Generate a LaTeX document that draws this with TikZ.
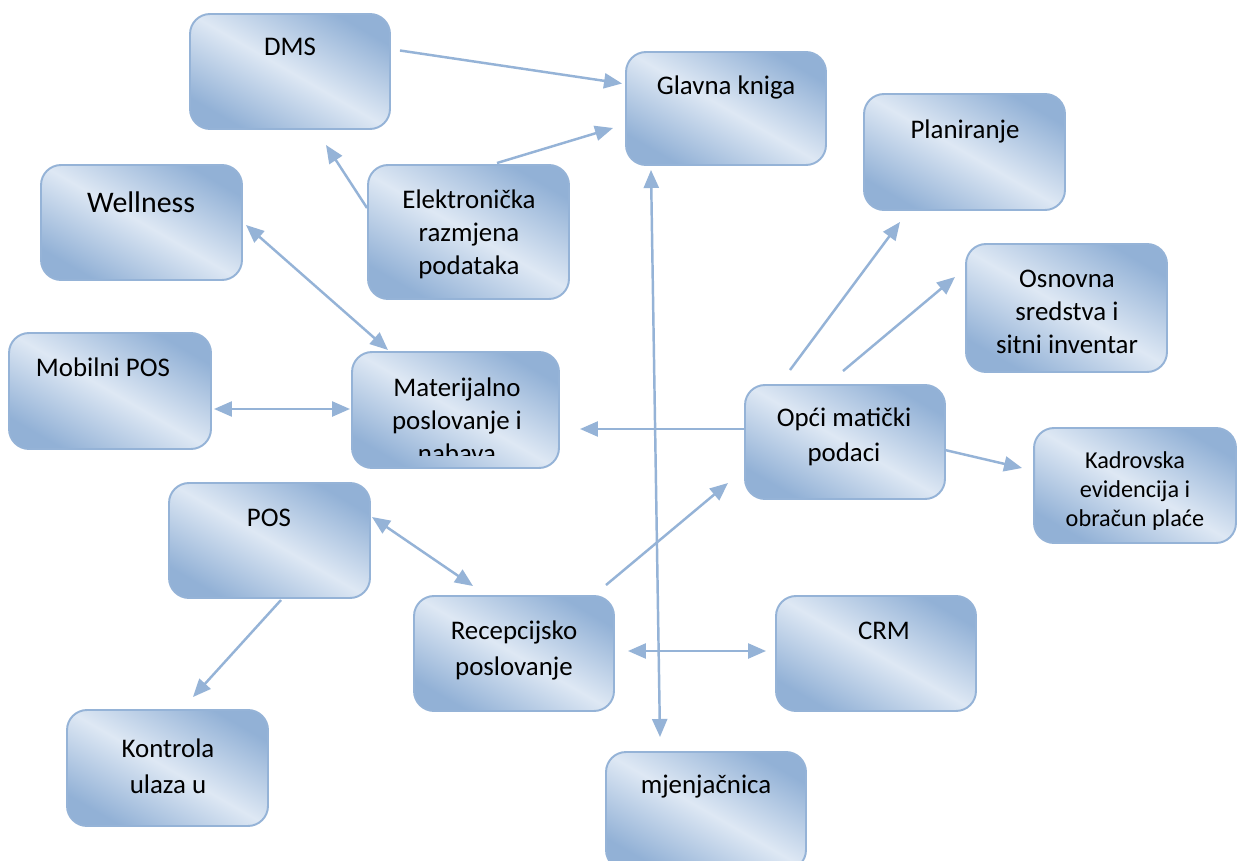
\documentclass[tikz,border=0pt]{standalone}
\usepackage{fontspec}
\setmainfont{Carlito}
\usetikzlibrary{arrows.meta,calc}
\definecolor{bdark}{RGB}{146,177,214}
\definecolor{blight}{RGB}{222,232,244}
\definecolor{edgec}{RGB}{149,179,215}
\begin{document}
\begin{tikzpicture}[x=0.02cm,y=-0.02cm,
  box/.style={draw=edgec, line width=1.1pt, rounded corners=0.4cm,
    top color=bdark, bottom color=bdark, middle color=blight, shading angle=-30,
    inner sep=0pt, outer sep=0pt},
  lbl/.style={align=center, inner sep=0pt, font=\fontsize{15.3}{18.8}\selectfont},
  conn/.style={draw=edgec, line width=1.4pt, -{Triangle[length=0.36cm,width=0.3cm]}},
  dconn/.style={draw=edgec, line width=1.4pt, {Triangle[length=0.36cm,width=0.3cm]}-{Triangle[length=0.36cm,width=0.3cm]}}]
\clip (0,0) rectangle (1240,861);
\fill[white] (0,0) rectangle (1240,861);
% boxes
\node[box, minimum width=4cm,   minimum height=2.3cm]  (dms)  at (290,71.5) {};
\node[box, minimum width=4cm,   minimum height=2.26cm] (glk)  at (726,108.5) {};
\node[box, minimum width=4.02cm,minimum height=2.32cm] (pla)  at (964.5,152) {};
\node[box, minimum width=4.02cm,minimum height=2.3cm]  (wel)  at (141.5,222.5) {};
\node[box, minimum width=4.02cm,minimum height=2.68cm] (edi)  at (468.5,232) {};
\node[box, minimum width=4.02cm,minimum height=2.56cm] (osn)  at (1066.5,308) {};
\node[box, minimum width=4.04cm,minimum height=2.32cm] (mob)  at (110,391) {};
\node[box, minimum width=4.14cm,minimum height=2.32cm] (mat)  at (455.5,410) {};
\node[box, minimum width=4cm,   minimum height=2.28cm] (opc)  at (845,442) {};
\node[box, minimum width=4.04cm,minimum height=2.3cm]  (kad)  at (1135,485.5) {};
\node[box, minimum width=4.02cm,minimum height=2.3cm]  (pos)  at (269.5,540.5) {};
\node[box, minimum width=4cm,   minimum height=2.3cm]  (rec)  at (514,653.5) {};
\node[box, minimum width=4cm,   minimum height=2.3cm]  (crm)  at (876,653.5) {};
\node[box, minimum width=4.02cm,minimum height=2.32cm] (kon)  at (167.5,768) {};
\node[box, minimum width=4cm,   minimum height=2.36cm] (mje)  at (706,811) {};
% labels
\node[lbl] (dms-t) at (290,47) {DMS};
\node[lbl] (glk-t) at (726,87) {Glavna kniga};
\node[lbl] (pla-t) at (965,131) {Planiranje};
\node[lbl, font=\fontsize{17}{20}\selectfont] (wel-t) at (141,202) {Wellness};
\node[lbl] (edi-t) at (469,234) {Elektronička\\razmjena\\podataka};
\node[lbl] (osn-t) at (1067,312) {Osnovna\\sredstva i\\sitni inventar};
\node[lbl] (mob-t) at (103,367) {Mobilni POS};
\begin{scope}
\clip (340,340) rectangle (570,455);
\node[lbl] (mat-t) at (457,420) {Materijalno\\poslovanje i\\nabava};
\end{scope}
\node[lbl, font=\fontsize{15.3}{19.8}\selectfont] (opc-t) at (844,437) {Opći matički\\podaci};
\node[lbl, font=\fontsize{13.8}{16.5}\selectfont] (kad-t) at (1135,491) {Kadrovska\\evidencija i\\obračun plaće};
\node[lbl] (pos-t) at (269,518) {POS};
\node[lbl, font=\fontsize{15.3}{20.5}\selectfont] (rec-t) at (514,650) {Recepcijsko\\poslovanje};
\node[lbl] (crm-t) at (884,631) {CRM};
\node[lbl, font=\fontsize{15.3}{20.5}\selectfont] (kon-t) at (168,766) {Kontrola\\ulaza u};
\node[lbl] (mje-t) at (706,787) {mjenjačnica};
% connectors
\draw[conn]  ([shift={(10,-21)}]dms.east)   -- ([shift={(-4,-25)}]glk.west);
\draw[conn]  ([shift={(28.5,-2)}]edi.north) -- ([shift={(-13,19.5)}]glk.west);
\draw[conn]  ([shift={(-1,-24)}]edi.west)   -- ([shift={(36,16)}]dms.south);
\draw[dconn] ([shift={(-67.5,-2)}]mat.north) -- ([shift={(4,2.5)}]wel.east);
\draw[dconn] ([shift={(3,18)}]mob.east)     -- ([shift={(-2,-1)}]mat.west);
\draw[conn]  ([shift={(0,-13)}]opc.west)    -- ([shift={(21,19)}]mat.east);
\draw[conn]  ([shift={(-55,-15)}]opc.north) -- ([shift={(-64.5,12)}]pla.south);
\draw[conn]  ([shift={(-2,-14)}]opc.north)  -- ([shift={(-11,-31)}]osn.west);
\draw[conn]  ([shift={(0,8)}]opc.east)      -- ([shift={(-12,-17.5)}]kad.west);
\draw[conn]  ([shift={(92,-11)}]rec.north)  -- ([shift={(-17,41)}]opc.west);
\draw[dconn] ([shift={(2,-23.5)}]pos.east)  -- ([shift={(-41,-10)}]rec.north);
\draw[conn]  ([shift={(11.5,2)}]pos.south)  -- ([shift={(25.5,-13)}]kon.north);
\draw[dconn] ([shift={(14,-2.5)}]rec.east)  -- ([shift={(-10,-2.5)}]crm.west);
\draw[dconn] ([shift={(-75,5)}]glk.south)   -- ([shift={(-46,-15)}]mje.north);
\end{tikzpicture}
\end{document}
